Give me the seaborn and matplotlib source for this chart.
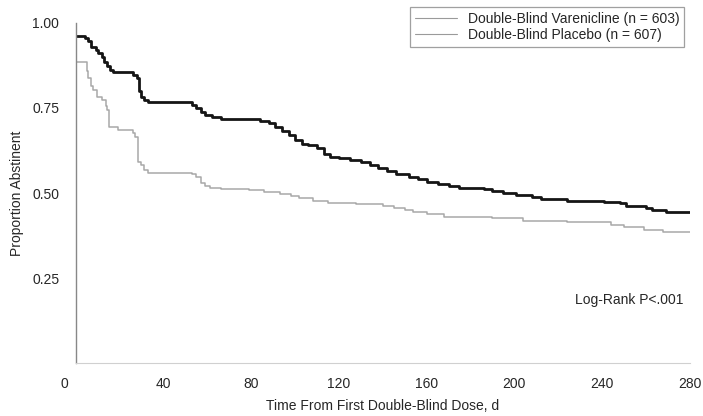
import pandas as pd
import matplotlib
matplotlib.use("Agg")
import matplotlib.pyplot as plt
import matplotlib.transforms as mtransforms
import seaborn as sns

# Kaplan-Meier style step data
vare_days = [0, 4, 5.5, 7, 9, 10, 12, 13, 14, 15.5, 17, 26, 28, 29, 29.5, 31, 33,
             53, 55, 57, 59, 62, 66, 84, 88, 91, 94, 97, 100, 103, 106, 110, 113,
             116, 120, 125, 130, 134, 138, 142, 146, 152, 156, 160, 165, 170, 175,
             186, 190, 195, 201, 208, 212, 224, 241, 248, 251, 260, 263, 269, 281]
vare_prop = [0.962, 0.955, 0.948, 0.93, 0.92, 0.912, 0.90, 0.885, 0.872, 0.862,
             0.856, 0.848, 0.838, 0.80, 0.782, 0.774, 0.767, 0.76, 0.75, 0.737,
             0.728, 0.722, 0.717, 0.712, 0.706, 0.695, 0.683, 0.67, 0.655, 0.645,
             0.64, 0.632, 0.615, 0.607, 0.602, 0.598, 0.59, 0.583, 0.575, 0.565,
             0.555, 0.548, 0.54, 0.533, 0.527, 0.52, 0.515, 0.512, 0.506, 0.499,
             0.494, 0.489, 0.483, 0.478, 0.474, 0.47, 0.463, 0.455, 0.45, 0.445,
             0.443]

plac_days = [0, 5, 5.5, 7, 8, 9.5, 12, 13.5, 14, 15, 19, 26, 27, 28.5, 29.5, 31,
             33, 53, 55, 57, 59, 61, 66, 79, 86, 93, 98, 102, 108, 115, 128, 140,
             145, 150, 154, 160, 168, 190, 204, 224, 244, 250, 259, 268, 281]
plac_prop = [0.886, 0.86, 0.838, 0.815, 0.803, 0.782, 0.774, 0.755, 0.744, 0.694,
             0.685, 0.675, 0.665, 0.59, 0.582, 0.568, 0.56, 0.555, 0.547, 0.529,
             0.52, 0.514, 0.512, 0.508, 0.503, 0.497, 0.49, 0.484, 0.477, 0.47,
             0.468, 0.462, 0.456, 0.449, 0.443, 0.437, 0.43, 0.426, 0.419, 0.415,
             0.406, 0.399, 0.392, 0.384, 0.382]

labels = ["Double-Blind Varenicline (n = 603)", "Double-Blind Placebo (n = 607)"]
x_ticks = [0, 40, 80, 120, 160, 200, 240, 280]
y_ticks = [0.25, 0.50, 0.75, 1.00]

sns.set_style("white")
plt.rcParams["font.family"] = ["Liberation Sans", "DejaVu Sans"]

fig = plt.figure(figsize=(7.03, 4.16), dpi=100)
ax = fig.add_axes([0.108, 0.127, 0.873, 0.818])

vare = pd.DataFrame({"day": vare_days, "prop": vare_prop})
plac = pd.DataFrame({"day": plac_days, "prop": plac_prop})

sns.lineplot(data=vare, x="day", y="prop", ax=ax, color="#151515", linewidth=2.0,
             drawstyle="steps-post", estimator=None, label=labels[0])
sns.lineplot(data=plac, x="day", y="prop", ax=ax, color="#a8a8a8", linewidth=1.1,
             drawstyle="steps-post", estimator=None, label=labels[1])

ax.set_xlim(0, 280)
ax.set_ylim(0, 1.0)
ax.set_xticks(x_ticks)
ax.set_yticks(y_ticks)
ax.set_yticklabels([f"{v:.2f}" for v in y_ticks])
ax.tick_params(axis="both", labelsize=10, length=3, color="#888888", direction="out")
ax.tick_params(axis="x", pad=7)
ax.tick_params(axis="y", pad=9)

# the "0" label sits a bit left of the axis in the original
shift = mtransforms.ScaledTranslation(-12 / 100, 0, fig.dpi_scale_trans)
first = ax.get_xticklabels()[0]
first.set_transform(first.get_transform() + shift)

for side in ["top", "right"]:
    ax.spines[side].set_visible(False)
ax.spines["left"].set_color("#888888")
ax.spines["bottom"].set_color("#d0d0d0")
ax.spines["left"].set_linewidth(1.0)
ax.spines["bottom"].set_linewidth(0.8)

ax.set_xlabel("Time From First Double-Blind Dose, d", fontsize=10, labelpad=6)
ax.set_ylabel("Proportion Abstinent", fontsize=10, labelpad=6)

ax.text(0.99, 0.185, "Log-Rank P<.001", transform=ax.transAxes, ha="right",
        va="center", fontsize=10)

leg = ax.legend(loc="upper right", bbox_to_anchor=(0.983, 1.0),
                bbox_transform=fig.transFigure, fontsize=10, frameon=True,
                fancybox=False, borderpad=0.35, handlelength=3.0,
                labelspacing=0.15)
leg.get_frame().set_edgecolor("#888888")
leg.get_frame().set_linewidth(0.9)
for line in leg.get_lines():
    line.set_linewidth(0.8)
    line.set_color("#9a9a9a")

fig.savefig("out.png", dpi=100)
